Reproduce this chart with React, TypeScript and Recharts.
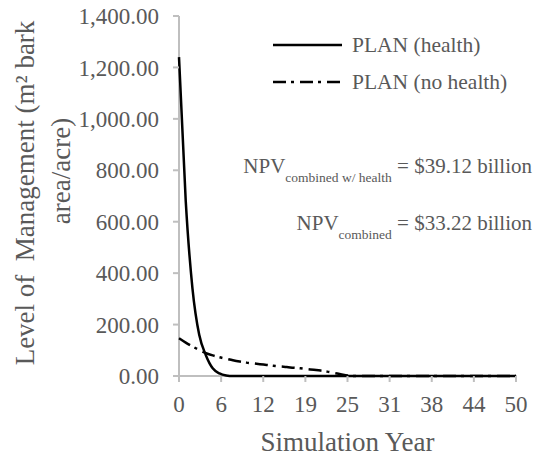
import React from "react";
import { LineChart, Line, XAxis, YAxis, Legend } from "recharts";

// simulation years 0..50
const years = [
  0, 1, 2, 3, 4, 5, 6, 7, 8, 9, 10, 11, 12, 13, 14, 15, 16, 17, 18, 19, 20, 21, 22, 23, 24, 25,
  26, 27, 28, 29, 30, 31, 32, 33, 34, 35, 36, 37, 38, 39, 40, 41, 42, 43, 44, 45, 46, 47, 48, 49, 50,
];

// PLAN (health)
const planHealth = [
  1240, 680, 340, 160, 80, 30, 10, 2, 0, 0, 0, 0, 0, 0, 0, 0, 0, 0, 0, 0, 0, 0, 0, 0, 0, 0,
  0, 0, 0, 0, 0, 0, 0, 0, 0, 0, 0, 0, 0, 0, 0, 0, 0, 0, 0, 0, 0, 0, 0, 0, 0,
];

// PLAN (no health)
const planNoHealth = [
  147, 130, 115, 101, 89, 80, 73, 67, 61, 56, 52, 49, 46, 43, 40, 37, 35, 32, 30, 27, 24, 21, 17, 12, 7, 2,
  0, 0, 0, 0, 0, 0, 0, 0, 0, 0, 0, 0, 0, 0, 0, 0, 0, 0, 0, 0, 0, 0, 0, 0, 0,
];

const xTicks = [0, 6.25, 12.5, 18.75, 25, 31.25, 37.5, 43.75, 50];
const xTickLabels = ["0", "6", "12", "19", "25", "31", "38", "44", "50"];
const yTicks = [0, 200, 400, 600, 800, 1000, 1200, 1400];

const data = years.map((y, i) => ({
  year: y,
  health: planHealth[i],
  noHealth: planNoHealth[i],
}));

const FONT = '"Liberation Serif", "Times New Roman", serif';
const TEXT = "#595959";
const AXIS = "#bfbfbf";
const DASH = "13 5 3 6";
const txt = { fontFamily: FONT, fill: TEXT };

function LegendBox() {
  return (
    <svg width={260} height={76} style={{ display: "block" }}>
      <line x1={0} y1={17} x2={69} y2={17} stroke="#000" strokeWidth={2.5} />
      <text x={79} y={17} dominantBaseline="central" fontSize={21.5} style={txt}>
        PLAN (health)
      </text>
      <line x1={0} y1={54} x2={69} y2={54} stroke="#000" strokeWidth={2.5} strokeDasharray={DASH} />
      <text x={79} y={54} dominantBaseline="central" fontSize={21.5} style={txt}>
        PLAN (no health)
      </text>
    </svg>
  );
}

export default function App() {
  return (
    <div
      style={{
        position: "absolute",
        left: 0,
        top: 0,
        width: 536,
        height: 460,
        background: "#fff",
        fontFamily: FONT,
      }}
    >
      {/* axis lines sit underneath the series, as in the original */}
      <svg width={536} height={460} style={{ position: "absolute", left: 0, top: 0 }}>
        <line x1={179} y1={16} x2={179} y2={377} stroke={AXIS} strokeWidth={2} />
        <line x1={178} y1={376} x2={517} y2={376} stroke={AXIS} strokeWidth={2} />
      </svg>
      <LineChart
        width={536}
        height={460}
        data={data}
        margin={{ top: 16, right: 20, bottom: 0, left: 0 }}
        style={{ fontFamily: FONT }}
      >
        <XAxis
          dataKey="year"
          type="number"
          domain={[0, 50]}
          ticks={xTicks}
          interval={0}
          height={84}
          tickFormatter={(_v: number, i: number) => xTickLabels[i]}
          tick={{ fontSize: 23, style: txt }}
          axisLine={false}
          tickLine={{ stroke: AXIS, strokeWidth: 2 }}
          tickSize={6}
          tickMargin={14}
        />
        <YAxis
          type="number"
          domain={[0, 1400]}
          ticks={yTicks}
          interval={0}
          width={179}
          tickFormatter={(v: number) =>
            v.toLocaleString("en-US", { minimumFractionDigits: 2, maximumFractionDigits: 2 })
          }
          tick={{ fontSize: 23, style: txt }}
          axisLine={false}
          tickLine={{ stroke: AXIS, strokeWidth: 2 }}
          tickSize={6}
          tickMargin={14}
        />
        <Legend
          layout="horizontal"
          verticalAlign="middle"
          align="center"
          wrapperStyle={{ position: "absolute", left: 273, top: 28, width: 260, height: 76 }}
          content={() => <LegendBox />}
        />
        <Line
          type="monotone"
          dataKey="noHealth"
          stroke="#000"
          strokeWidth={2.5}
          strokeDasharray={DASH}
          dot={false}
          isAnimationActive={false}
        />
        <Line
          type="monotone"
          dataKey="health"
          stroke="#000"
          strokeWidth={2.5}
          dot={false}
          isAnimationActive={false}
        />
      </LineChart>
      <svg
        width={536}
        height={460}
        style={{ position: "absolute", left: 0, top: 0, pointerEvents: "none" }}
      >
        <text
          transform="translate(25,193) rotate(-90)"
          textAnchor="middle"
          dominantBaseline="central"
          fontSize={27}
          xmlSpace="preserve"
          style={txt}
        >
          Level of  Management (m² bark
        </text>
        <text
          transform="translate(61,171) rotate(-90)"
          textAnchor="middle"
          dominantBaseline="central"
          fontSize={27}
          style={txt}
        >
          area/acre)
        </text>
        <text x={347.5} y={442} textAnchor="middle" dominantBaseline="central" fontSize={27} style={txt}>
          Simulation Year
        </text>
        <text x={532} y={173} textAnchor="end" fontSize={21} style={txt}>
          NPV
          <tspan fontSize={13.5} dy={9}>combined w/ health</tspan>
          <tspan fontSize={21} dy={-9}> = $39.12 billion</tspan>
        </text>
        <text x={532} y={230} textAnchor="end" fontSize={21} style={txt}>
          NPV
          <tspan fontSize={13.5} dy={9}>combined</tspan>
          <tspan fontSize={21} dy={-9}> = $33.22 billion</tspan>
        </text>
      </svg>
    </div>
  );
}
